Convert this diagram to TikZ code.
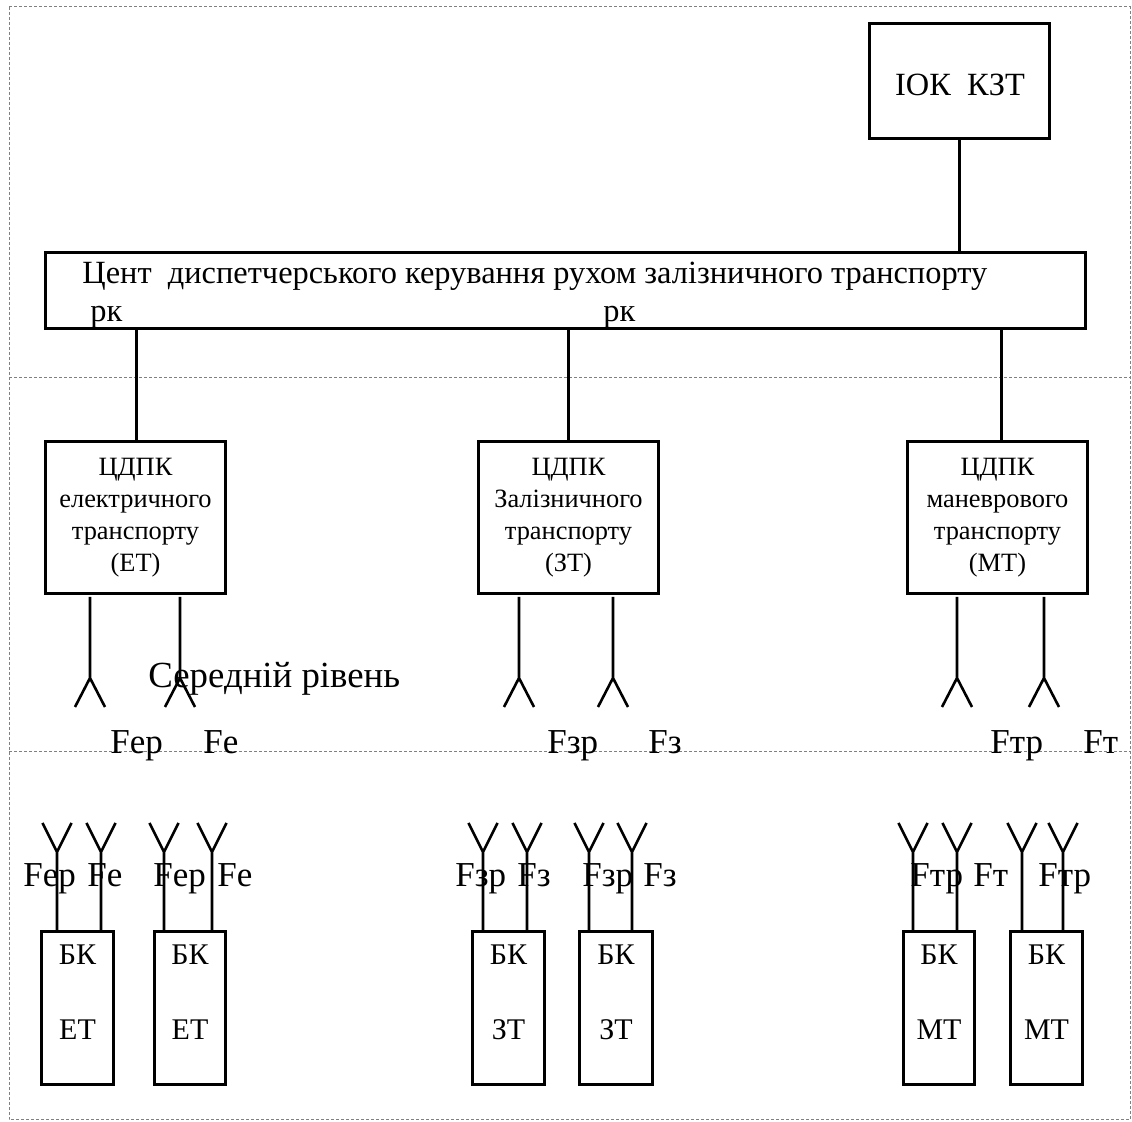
\documentclass[tikz,border=0pt]{standalone}
\usepackage{fontspec}
\setmainfont{Liberation Serif}
\begin{document}
\begin{tikzpicture}[x=0.5pt,y=-0.5pt,
  box/.style={draw, line width=1.5pt, inner sep=0pt, anchor=north west},
  midbox/.style={box, minimum width=90pt, minimum height=76pt, align=center,
    font=\fontsize{13.2}{16}\selectfont},
  bkbox/.style={box, minimum height=76.5pt},
  ln/.style={line width=1.3pt},
  framel/.style={gray, line width=0.5pt, dash pattern=on 1.5pt off 1pt},
  lbl/.style={inner sep=0pt, anchor=base west, font=\fontsize{17.5}{17.5}\selectfont},
  bktxt/.style={inner sep=0pt, anchor=base, font=\fontsize{15}{15}\selectfont},
  bigtxt/.style={inner sep=0pt, anchor=base west, font=\fontsize{16.2}{16.2}\selectfont},
  antdn/.pic={\draw[ln] (0,0) -- (0,81) (-15,110) -- (0,81) -- (15,110);},
  antup/.pic={\draw[ln] (0,0) -- (0,-78) (-14.5,-107) -- (0,-78) -- (14.5,-107);}
]
\useasboundingbox (0,0) rectangle (1132,1122);
% frame and level separators
\draw[framel] (9,7) rectangle (1130,1120);
\draw[framel] (9,378) -- (1130,378);
\draw[framel] (9,752) -- (1130,752);

% top level
\node[box, minimum width=90pt, minimum height=57.5pt] (iok) at (868,22) {};
\node[bigtxt, anchor=base] (iokt) at (960,96) {ІОК\ \ КЗТ};
\node[box, minimum width=520pt, minimum height=38pt] (cdk) at (44,251) {};
\node[bigtxt] (cdkt) at (82,284) {Цент\ \ диспетчерського керування рухом залізничного транспорту};
\node[bigtxt] (rk1) at (90,322) {рк};
\node[bigtxt] (rk2) at (603,322) {рк};
\draw[ln] (iok.south) -- (iok.south |- cdk.north);

% middle level
\node[midbox] (et) at (44,440) {ЦДПК\\електричного\\транспорту\\(ЕТ)};
\node[midbox] (zt) at (477,440) {ЦДПК\\Залізничного\\транспорту\\(ЗТ)};
\node[midbox] (mt) at (906,440) {ЦДПК\\маневрового\\транспорту\\(МТ)};
\draw[ln] ([xshift=0.5pt]et.north) -- ([xshift=0.5pt]et.north |- cdk.south);
\draw[ln] (zt.north) -- (zt.north |- cdk.south);
\draw[ln] ([xshift=2pt]mt.north) -- ([xshift=2pt]mt.north |- cdk.south);

\pic at (90,597) {antdn};
\pic at (180,597) {antdn};
\pic at (519,597) {antdn};
\pic at (613,597) {antdn};
\pic at (957,597) {antdn};
\pic at (1044,597) {antdn};

\node[inner sep=0pt, anchor=base west, font=\fontsize{18.4}{18.4}\selectfont] (lvl) at (148,688) {Середній рівень};

\node[lbl] (u1) at (110,754) {Fер};
\node[lbl] (u2) at (203,754) {Fе};
\node[lbl] (u3) at (547,754) {Fзр};
\node[lbl] (u4) at (648,754) {Fз};
\node[lbl] (u5) at (990,754) {Fтр};
\node[lbl] (u6) at (1083,754) {Fт};

% bottom level
\node[bkbox, minimum width=36pt] (bk1) at (40,930) {};
\node[bkbox, minimum width=35.5pt] (bk2) at (153,930) {};
\node[bkbox, minimum width=36pt] (bk3) at (471,930) {};
\node[bkbox, minimum width=36.5pt] (bk4) at (578,930) {};
\node[bkbox, minimum width=35.5pt] (bk5) at (902,930) {};
\node[bkbox, minimum width=36pt] (bk6) at (1009,930) {};

\foreach \n/\t in {bk1/ЕТ, bk2/ЕТ, bk3/ЗТ, bk4/ЗТ, bk5/МТ, bk6/МТ}{
  \node[bktxt] (\n a) at (\n.north |- 0,965) {БК};
  \node[bktxt] (\n b) at (\n.north |- 0,1040) {\t};
}

\foreach \x in {57,101,164,212,483,527,589,632,913,957,1022,1063}{
  \pic at (\x,930) {antup};
}

\node[lbl] (b1) at (23,887) {Fер};
\node[lbl] (b2) at (87,887) {Fе};
\node[lbl] (b3) at (153,887) {Fер};
\node[lbl] (b4) at (217,887) {Fе};
\node[lbl] (b5) at (455,887) {Fзр};
\node[lbl] (b6) at (517,887) {Fз};
\node[lbl] (b7) at (582,887) {Fзр};
\node[lbl] (b8) at (643,887) {Fз};
\node[lbl] (b9) at (910,887) {Fтр};
\node[lbl] (b10) at (973,887) {Fт};
\node[lbl] (b11) at (1038,887) {Fтр};
\end{tikzpicture}
\end{document}
